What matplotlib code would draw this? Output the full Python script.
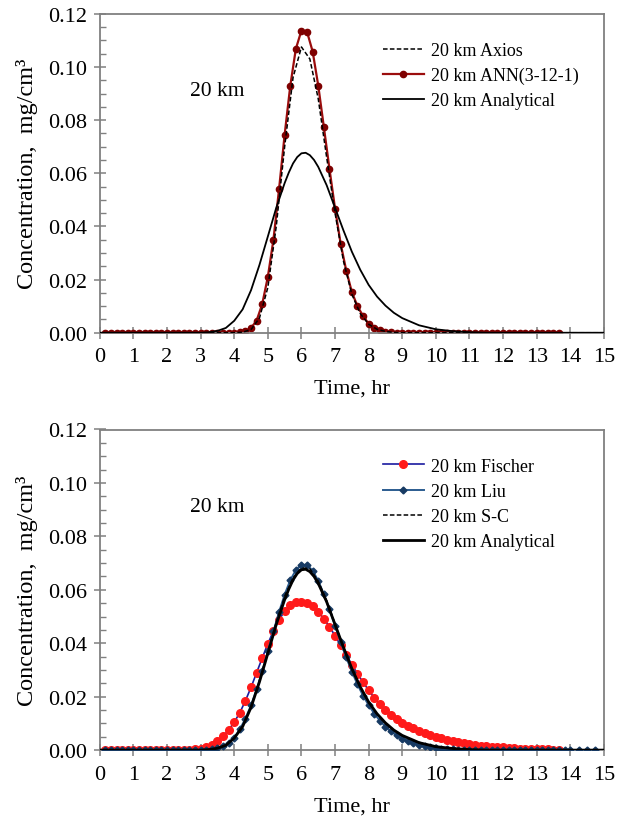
import numpy as np
import matplotlib
matplotlib.use("Agg")
import matplotlib.pyplot as plt
from matplotlib.ticker import MultipleLocator

plt.rcParams['font.family'] = ['Liberation Serif', 'DejaVu Serif']

# --- time grids (hr) ---
t6 = np.arange(1, 83) / 6.0          # 10-min model steps, 0.17 .. 13.67 hr

# --- top panel: ANN(3-12-1) on the 10-min grid ---
ann = [0] * 24 + [
    0.0001, 0.0005, 0.0018, 0.0046, 0.0108, 0.0210, 0.0350, 0.0540, 0.0745, 0.0928,
    0.1068, 0.1137, 0.1132, 0.1058, 0.0930, 0.0774, 0.0617, 0.0467, 0.0335, 0.0234,
    0.0153, 0.0100, 0.0063, 0.0034, 0.0019, 0.0009, 0.0004, 0.0002] + [0] * 30

# Axios (dashed)
t_axios = [0, 4.0, 4.25, 4.5, 4.75, 5.0, 5.25, 5.5, 5.75, 6.0, 6.25, 6.5, 6.75, 7.0,
           7.25, 7.5, 7.75, 8.0, 8.25, 8.5, 8.75, 9.0, 15]
c_axios = [0, 0, 0.0002, 0.0012, 0.0055, 0.0170, 0.0400, 0.0700, 0.0960, 0.1075, 0.1030,
           0.0880, 0.0660, 0.0450, 0.0270, 0.0145, 0.0072, 0.0032, 0.0013, 0.0005, 0.0001, 0, 0]

# Analytical (same in both panels)
t_an = [0, 3.0, 3.25, 3.5, 3.75, 4.0, 4.25, 4.5, 4.75, 5.0, 5.25, 5.5, 5.625, 5.75,
        5.875, 6.0, 6.125, 6.25, 6.375, 6.5, 6.75, 7.0, 7.25, 7.5, 7.75, 8.0, 8.25,
        8.5, 8.75, 9.0, 9.5, 10.0, 10.5, 11.0, 11.5, 15]
c_an = [0, 0, 0.0002, 0.0007, 0.0018, 0.0045, 0.0088, 0.0160, 0.0255, 0.0362, 0.0470,
        0.0563, 0.0603, 0.0637, 0.0661, 0.0675, 0.0677, 0.0668, 0.0650, 0.0624, 0.0555,
        0.0470, 0.0385, 0.0305, 0.0237, 0.0180, 0.0136, 0.0102, 0.0075, 0.0055, 0.0028,
        0.0013, 0.0006, 0.0002, 0, 0]

# --- bottom panel ---
fischer = [0] * 15 + [
    0.0001, 0.0003, 0.0006, 0.0012, 0.0021, 0.0034, 0.0052, 0.0075, 0.0105, 0.0140,
    0.0185, 0.0235, 0.0290, 0.0345, 0.0398, 0.0446, 0.0488, 0.0520, 0.0542, 0.0553,
    0.0555, 0.0550, 0.0538, 0.0518, 0.0492, 0.0462, 0.0428, 0.0392, 0.0356, 0.0320,
    0.0286, 0.0254, 0.0224, 0.0196, 0.0171, 0.0149, 0.0131, 0.0116, 0.0103, 0.0092,
    0.0082, 0.0073, 0.0065, 0.0057, 0.0050, 0.0044, 0.0039, 0.0034, 0.0030, 0.0026,
    0.0023, 0.0020, 0.0017, 0.0015, 0.0013, 0.0011, 0.0010, 0.0009, 0.0007, 0.0006,
    0.0005, 0.0005, 0.0004, 0.0003, 0.0003, 0.0002, 0.0002]

t_liu = list(np.arange(1, 85) / 6.0) + [14.25, 14.5, 14.75]
liu = [0] * 18 + [
    0.0001, 0.0003, 0.0007, 0.0014, 0.0027, 0.0047, 0.0078, 0.0118, 0.0168, 0.0228,
    0.0296, 0.0370, 0.0445, 0.0517, 0.0582, 0.0636, 0.0674, 0.0694, 0.0693, 0.0672,
    0.0634, 0.0584, 0.0527, 0.0466, 0.0405, 0.0347, 0.0294, 0.0246, 0.0204, 0.0168,
    0.0137, 0.0110, 0.0088, 0.0070, 0.0055, 0.0043, 0.0033, 0.0025, 0.0019, 0.0014,
    0.0010, 0.0007, 0.0005, 0.0004, 0.0003, 0.0002, 0.0001, 0.0001] + [0] * 21

t_sc = [0, 3.0, 3.25, 3.5, 3.75, 4.0, 4.25, 4.5, 4.75, 5.0, 5.25, 5.5, 5.75, 6.0, 6.25,
        6.5, 6.75, 7.0, 7.25, 7.5, 7.75, 8.0, 8.25, 8.5, 8.75, 9.0, 9.5, 10.0, 10.5,
        11.0, 11.5, 15]
c_sc = [0, 0, 0.0002, 0.0007, 0.0019, 0.0046, 0.0090, 0.0163, 0.0260, 0.0368, 0.0478,
        0.0575, 0.0645, 0.0682, 0.0679, 0.0632, 0.0560, 0.0473, 0.0386, 0.0305, 0.0236,
        0.0178, 0.0134, 0.0100, 0.0073, 0.0053, 0.0027, 0.0012, 0.0005, 0.0002, 0, 0]

GRAY = '#808080'
FS = 16


def style_axes(ax):
    ax.set_xlim(0, 15)
    ax.set_ylim(0, 0.12)
    ax.xaxis.set_major_locator(MultipleLocator(1))
    ax.yaxis.set_major_locator(MultipleLocator(0.02))
    ax.yaxis.set_minor_locator(MultipleLocator(0.005))
    ax.yaxis.set_major_formatter(matplotlib.ticker.FormatStrFormatter('%.2f'))
    for s in ax.spines.values():
        s.set_color(GRAY)
        s.set_linewidth(1.3)
    ax.tick_params(axis='both', which='major', direction='inout', length=9,
                   width=1.1, color=GRAY, labelsize=FS)
    ax.tick_params(axis='x', which='major', pad=6)
    ax.tick_params(axis='y', which='major', pad=5)
    ax.tick_params(axis='y', which='minor', direction='in', length=4,
                   width=1.0, color=GRAY)
    ax.set_xlabel('Time, hr', fontsize=FS, labelpad=9)
    ax.set_ylabel('Concentration,  mg/cm³', fontsize=17.5, labelpad=7)
    ax.text(3.5, 0.091, '20 km', fontsize=15.5, ha='center', va='center')
    ax.legend(loc='upper left', bbox_to_anchor=(0.561, 0.912), frameon=False,
              fontsize=13, handlelength=2.3, handletextpad=0.4,
              labelspacing=0.45, borderpad=0, borderaxespad=0)


fig = plt.figure(figsize=(6.2, 8.2), dpi=100)
ax1 = fig.add_axes([0.161, 0.593, 0.813, 0.389])
ax2 = fig.add_axes([0.161, 0.084, 0.813, 0.391])

ax1.plot(t_axios, c_axios, color='black', linestyle='--', linewidth=1.1,
         dashes=(3, 1.5), label='20 km Axios', zorder=3)
ax1.plot(t6, ann, color='#9b0d0d', linewidth=1.6, marker='o', markersize=4.5,
         markerfacecolor='#7f0000', markeredgecolor='#7f0000', label='20 km ANN(3-12-1)', zorder=2)
ax1.plot(t_an, c_an, color='black', linewidth=1.3, label='20 km Analytical', zorder=4)
style_axes(ax1)

ax2.plot(t6, fischer, color='#1a1aa0', linewidth=1.2, marker='o', markersize=5.5,
         markerfacecolor='#ff1a1a', markeredgecolor='#ff1a1a', label='20 km Fischer', zorder=2)
ax2.plot(t_liu, liu, color='#2b5c8f', linewidth=1.4, marker='D', markersize=3.5,
         markerfacecolor='#173a63', markeredgecolor='#173a63', label='20 km Liu', zorder=3)
ax2.plot(t_sc, c_sc, color='black', linestyle='--', linewidth=1.1,
         dashes=(3, 1.5), label='20 km S-C', zorder=4)
ax2.plot(t_an, c_an, color='black', linewidth=2.0, label='20 km Analytical', zorder=5)
style_axes(ax2)

fig.savefig('out.png', dpi=100)
